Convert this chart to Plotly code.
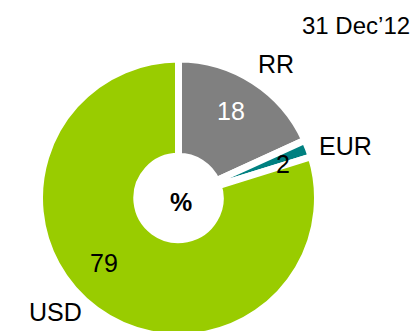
import plotly.graph_objects as go

# Currency structure, %, 31 Dec 2012
currencies = ["RR", "EUR", "USD"]
shares = [18, 2, 79]
colors = ["#808080", "#008080", "#99CC00"]
value_font_colors = ["white", "black", "black"]

W, H = 414, 340
FONT = "Arial, Liberation Sans, sans-serif"

# donut geometry in pixels
cx, cy, R = 178.5, 198, 139

fig = go.Figure(
    go.Pie(
        labels=currencies,
        values=shares,
        sort=False,
        direction="clockwise",
        rotation=0,
        hole=0.30,
        marker=dict(colors=colors, line=dict(color="white", width=7)),
        textinfo="none",
        hoverinfo="label+value",
        showlegend=False,
        domain=dict(
            x=[(cx - R) / W, (cx + R) / W],
            y=[(H - cy - R) / H, (H - cy + R) / H],
        ),
    )
)


def px(x, y):
    return x / W, 1 - y / H


annotations = []
# category names outside the ring
name_pos = {"RR": (276, 64), "EUR": (345, 146), "USD": (55, 312)}
# values inside the slices
value_pos = {"RR": (231, 111), "EUR": (283, 164), "USD": (104, 263)}

for name, val, fc in zip(currencies, shares, value_font_colors):
    x, y = px(*name_pos[name])
    annotations.append(dict(x=x, y=y, xref="paper", yref="paper", text=name,
                            showarrow=False, font=dict(family=FONT, size=25, color="black"),
                            xanchor="center", yanchor="middle"))
    x, y = px(*value_pos[name])
    annotations.append(dict(x=x, y=y, xref="paper", yref="paper", text=str(val),
                            showarrow=False, font=dict(family=FONT, size=25, color=fc),
                            xanchor="center", yanchor="middle"))

# unit in the centre of the donut
x, y = px(181, 202)
annotations.append(dict(x=x, y=y, xref="paper", yref="paper", text="<b>%</b>",
                        showarrow=False, font=dict(family=FONT, size=25, color="black"),
                        xanchor="center", yanchor="middle"))

# date
x, y = px(412, 26)
annotations.append(dict(x=x, y=y, xref="paper", yref="paper", text="31 Dec\u201912",
                        showarrow=False, font=dict(family=FONT, size=24, color="black"),
                        xanchor="right", yanchor="middle"))

fig.update_layout(
    width=W,
    height=H,
    margin=dict(l=0, r=0, t=0, b=0),
    paper_bgcolor="white",
    plot_bgcolor="white",
    annotations=annotations,
)

fig.write_html(
    "out.html",
    config={"displayModeBar": False},
    post_script="document.body.style.margin='0';document.body.style.overflow='hidden';",
)
